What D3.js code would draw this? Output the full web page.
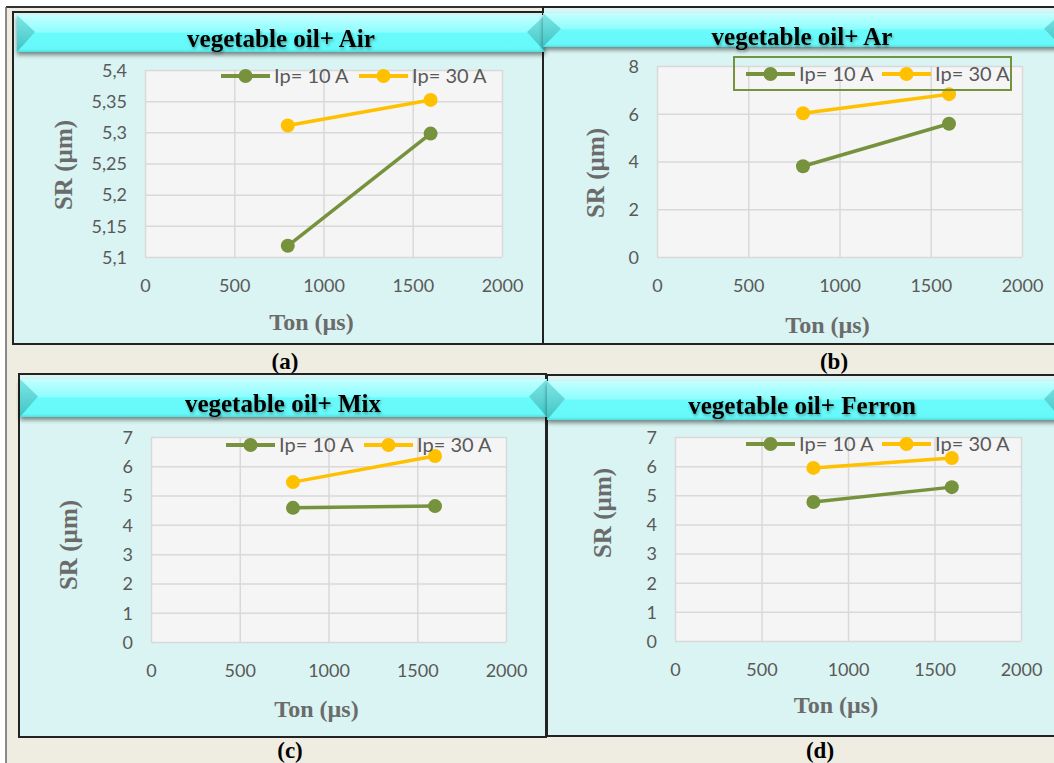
<!DOCTYPE html>
<html>
<head>
<meta charset="utf-8">
<script src="https://cdn.jsdelivr.net/npm/d3@7"></script>
<style>
  html, body { margin: 0; padding: 0; background: #ffffff; }
  svg { display: block; }
</style>
</head>
<body>
<svg id="fig" width="1054" height="763"></svg>
<script>
// ---- data ----
const tonValues = [800, 1600];
const seriesNames = ["Ip= 10 A", "Ip= 30 A"];
const airIp10 = [5.118, 5.298];
const airIp30 = [5.311, 5.352];
const arIp10 = [3.8, 5.58];
const arIp30 = [6.02, 6.82];
const mixIp10 = [4.58, 4.64];
const mixIp30 = [5.46, 6.35];
const ferronIp10 = [4.77, 5.28];
const ferronIp30 = [5.94, 6.28];
const panelTitles = ["vegetable oil+ Air", "vegetable oil+ Ar", "vegetable oil+ Mix", "vegetable oil+ Ferron"];
const panelLetters = ["(a)", "(b)", "(c)", "(d)"];
const xTicks = [0, 500, 1000, 1500, 2000];
const airYTicks = [5.1, 5.15, 5.2, 5.25, 5.3, 5.35, 5.4];
const arYTicks = [0, 2, 4, 6, 8];
const mixYTicks = [0, 1, 2, 3, 4, 5, 6, 7];
const ferronYTicks = [0, 1, 2, 3, 4, 5, 6, 7];
const xAxisTitle = "Ton (µs)";
const yAxisTitle = "SR (µm)";

// ---- styling ----
const seriesColors = ["#76923c", "#ffc000"];
const beige = "#efece1";
const panelFill = "#d9f4f2";
const plotFill = "#f5f5f5";
const gridColor = "#d9d9d9";
const tickColor = "#595959";
const titleGray = "#6b6b6b";
const serif = "'Liberation Serif', 'Times New Roman', serif";
const sans = "Lato, 'Open Sans', sans-serif";

const panelData = [
  { title: panelTitles[0], letter: panelLetters[0], yTicks: airYTicks, series: [airIp10, airIp30] },
  { title: panelTitles[1], letter: panelLetters[1], yTicks: arYTicks, series: [arIp10, arIp30] },
  { title: panelTitles[2], letter: panelLetters[2], yTicks: mixYTicks, series: [mixIp10, mixIp30] },
  { title: panelTitles[3], letter: panelLetters[3], yTicks: ferronYTicks, series: [ferronIp10, ferronIp30] }
];

// page layout of each panel
const layouts = [
  { frame: [13, 12, 543, 344], banner: [17, 15, 545, 52], titleX: 281, titleY: 47,
    plot: [145, 70, 502, 257], yTitle: [63, 165], xTitleY: 322, letter: [285, 361],
    legendY: 76, legendX: [221, 359], legendBox: null },
  { frame: [543, 7, 1058, 344], banner: [543, 13, 1062, 47], titleX: 802, titleY: 45,
    plot: [657, 66, 1022, 257], yTitle: [595, 173], xTitleY: 325, letter: [834, 361],
    legendY: 74, legendX: [746, 882], legendBox: [734, 57, 1011, 90] },
  { frame: [19, 374, 546, 737], banner: [20, 379, 547, 417], titleX: 283, titleY: 412,
    plot: [151, 437, 506, 642], yTitle: [68, 545], xTitleY: 709, letter: [290, 750],
    legendY: 445, legendX: [226, 364], legendBox: null },
  { frame: [547, 375, 1058, 736], banner: [547, 381, 1062, 420], titleX: 802, titleY: 414,
    plot: [675, 437, 1021, 641], yTitle: [602, 513], xTitleY: 705, letter: [820, 750],
    legendY: 444, legendX: [746, 882], legendBox: null }
];

const svg = d3.select("#fig");
const defs = svg.append("defs");

const shadow = defs.append("filter").attr("id", "bannerShadow")
  .attr("x", "-5%").attr("y", "-30%").attr("width", "110%").attr("height", "170%");
shadow.append("feDropShadow").attr("dx", 0).attr("dy", 3).attr("stdDeviation", 2.2)
  .attr("flood-color", "#000").attr("flood-opacity", 0.45);

const textShadow = defs.append("filter").attr("id", "textShadow")
  .attr("x", "-10%").attr("y", "-30%").attr("width", "120%").attr("height", "170%");
textShadow.append("feDropShadow").attr("dx", 1).attr("dy", 2).attr("stdDeviation", 1.4)
  .attr("flood-color", "#000").attr("flood-opacity", 0.35);

const faceGrad = defs.append("linearGradient").attr("id", "bannerFace")
  .attr("x1", 0).attr("y1", 0).attr("x2", 0).attr("y2", 1);
faceGrad.append("stop").attr("offset", "0%").attr("stop-color", "#c4ffff");
faceGrad.append("stop").attr("offset", "46%").attr("stop-color", "#8ffdfd");
faceGrad.append("stop").attr("offset", "50%").attr("stop-color", "#68fbfb");
faceGrad.append("stop").attr("offset", "92%").attr("stop-color", "#66f9f9");
faceGrad.append("stop").attr("offset", "100%").attr("stop-color", "#52dede");

const sideGrad = defs.append("linearGradient").attr("id", "bannerSide")
  .attr("x1", 0).attr("y1", 0).attr("x2", 0).attr("y2", 1);
sideGrad.append("stop").attr("offset", "0%").attr("stop-color", "#7fe6e6");
sideGrad.append("stop").attr("offset", "100%").attr("stop-color", "#3fc4c4");

// ---- page background and outer rules ----
svg.append("rect").attr("x", 0).attr("y", 0).attr("width", 1054).attr("height", 763).attr("fill", "#ffffff");
svg.append("rect").attr("x", 6).attr("y", 7).attr("width", 1048).attr("height", 756).attr("fill", beige);
svg.append("line").attr("x1", 6).attr("x2", 1054).attr("y1", 7).attr("y2", 7)
  .attr("stroke", "#333").attr("stroke-width", 2);
svg.append("line").attr("x1", 6).attr("x2", 6).attr("y1", 7).attr("y2", 763)
  .attr("stroke", "#666").attr("stroke-width", 1.5);

const fmtY = d => String(+d.toFixed(2)).replace(".", ",");

// panel frames first so banners may overlap neighbours
layouts.forEach(L => {
  const [fx0, fy0, fx1, fy1] = L.frame;
  svg.append("rect").attr("x", fx0).attr("y", fy0).attr("width", fx1 - fx0).attr("height", fy1 - fy0)
    .attr("fill", panelFill).attr("stroke", "#222").attr("stroke-width", 2);
});

function drawBanner(g, b) {
  const [x0, y0, x1, y1] = b;
  const h = y1 - y0, bx = 18, ym = y0 + h * 0.46;
  const bg = g.append("g").attr("filter", "url(#bannerShadow)");
  bg.append("rect").attr("x", x0).attr("y", y0).attr("width", x1 - x0).attr("height", h)
    .attr("fill", "url(#bannerFace)");
  bg.append("polygon").attr("points", [[x0, y0], [x0 + bx, ym], [x0, y1]].map(p => p.join(",")).join(" "))
    .attr("fill", "url(#bannerSide)");
  bg.append("polygon").attr("points", [[x1, y0], [x1 - bx, ym], [x1, y1]].map(p => p.join(",")).join(" "))
    .attr("fill", "url(#bannerSide)");
}

panelData.forEach((P, i) => {
  const L = layouts[i];
  const g = svg.append("g");
  const [px0, py0, px1, py1] = L.plot;

  drawBanner(g, L.banner);
  g.append("text").attr("x", L.titleX).attr("y", L.titleY)
    .attr("text-anchor", "middle").attr("font-family", serif).attr("font-weight", "bold")
    .attr("font-size", 25).attr("fill", "#000").attr("filter", "url(#textShadow)")
    .text(P.title);

  const x = d3.scaleLinear().domain([xTicks[0], xTicks[xTicks.length - 1]]).range([px0, px1]);
  const y = d3.scaleLinear().domain([P.yTicks[0], P.yTicks[P.yTicks.length - 1]]).range([py1, py0]);

  g.append("rect").attr("x", px0).attr("y", py0).attr("width", px1 - px0).attr("height", py1 - py0)
    .attr("fill", plotFill);

  // gridlines
  const gx = g.append("g").attr("transform", `translate(0,${py1})`)
    .call(d3.axisBottom(x).tickValues(xTicks).tickSize(-(py1 - py0)).tickFormat(""));
  const gy = g.append("g").attr("transform", `translate(${px0},0)`)
    .call(d3.axisLeft(y).tickValues(P.yTicks).tickSize(-(px1 - px0)).tickFormat(""));
  [gx, gy].forEach(a => {
    a.select(".domain").remove();
    a.selectAll(".tick line").attr("stroke", gridColor).attr("stroke-width", 1.5);
  });

  // tick labels
  const lx = g.append("g").attr("transform", `translate(0,${py1})`)
    .call(d3.axisBottom(x).tickValues(xTicks).tickSize(0).tickPadding(0).tickFormat(d3.format("d")));
  lx.select(".domain").remove();
  lx.selectAll(".tick text").attr("y", 28.5).attr("dy", "0.35em")
    .attr("font-family", sans).attr("font-size", 18).attr("fill", tickColor);

  const ly = g.append("g").attr("transform", `translate(${px0},0)`)
    .call(d3.axisLeft(y).tickValues(P.yTicks).tickSize(0).tickPadding(18).tickFormat(fmtY));
  ly.select(".domain").remove();
  ly.selectAll(".tick text").attr("dy", "0.35em")
    .attr("font-family", sans).attr("font-size", 18).attr("fill", tickColor);

  // axis titles
  g.append("text").attr("x", (px0 + px1) / 2 - 12).attr("y", L.xTitleY).attr("dy", "0.35em")
    .attr("text-anchor", "middle").attr("font-family", serif).attr("font-weight", "bold")
    .attr("font-size", 24).attr("fill", titleGray).text(xAxisTitle);
  g.append("text").attr("transform", `translate(${L.yTitle[0]},${L.yTitle[1]}) rotate(-90)`)
    .attr("dy", "0.35em").attr("text-anchor", "middle").attr("font-family", serif)
    .attr("font-weight", "bold").attr("font-size", 25).attr("fill", titleGray).text(yAxisTitle);

  // series
  const line = d3.line().x((d, k) => x(tonValues[k])).y(d => y(d));
  P.series.forEach((vals, s) => {
    g.append("path").datum(vals).attr("d", line).attr("fill", "none")
      .attr("stroke", seriesColors[s]).attr("stroke-width", 3.5);
    g.selectAll(null).data(vals).enter().append("circle")
      .attr("cx", (d, k) => x(tonValues[k])).attr("cy", d => y(d)).attr("r", 7)
      .attr("fill", seriesColors[s]);
  });

  // legend
  if (L.legendBox) {
    const [bx0, by0, bx1, by1] = L.legendBox;
    g.append("rect").attr("x", bx0).attr("y", by0).attr("width", bx1 - bx0).attr("height", by1 - by0)
      .attr("fill", "none").attr("stroke", seriesColors[0]).attr("stroke-width", 2);
  }
  seriesNames.forEach((name, s) => {
    const x0 = L.legendX[s];
    g.append("line").attr("x1", x0).attr("x2", x0 + 49).attr("y1", L.legendY).attr("y2", L.legendY)
      .attr("stroke", seriesColors[s]).attr("stroke-width", 4);
    g.append("circle").attr("cx", x0 + 24.5).attr("cy", L.legendY).attr("r", 7).attr("fill", seriesColors[s]);
    g.append("text").attr("x", x0 + 53).attr("y", L.legendY).attr("dy", "0.35em")
      .attr("font-family", sans).attr("font-size", 20).attr("fill", tickColor).text(name);
  });

  // panel letter
  svg.append("text").attr("x", L.letter[0]).attr("y", L.letter[1]).attr("dy", "0.35em")
    .attr("text-anchor", "middle").attr("font-family", serif).attr("font-weight", "bold")
    .attr("font-size", 23).attr("fill", "#000").text(P.letter);
});
</script>
</body>
</html>
